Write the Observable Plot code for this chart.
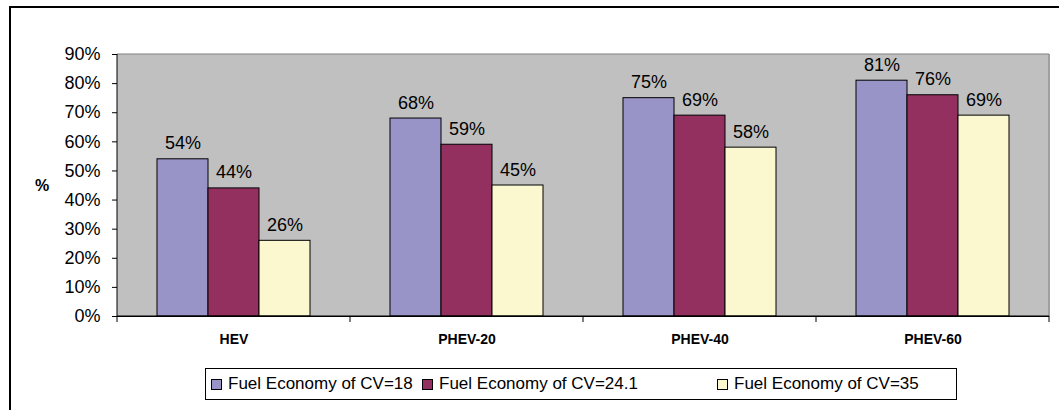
<!DOCTYPE html>
<html>
<head>
<meta charset="utf-8">
<script src="https://cdn.jsdelivr.net/npm/d3@7"></script>
<script src="https://cdn.jsdelivr.net/npm/@observablehq/plot@0.6"></script>
<style>
  html, body { margin: 0; padding: 0; background: #fff; }
  #wrap { position: relative; width: 1059px; height: 410px; overflow: hidden; font-family: Arial, "Liberation Sans", sans-serif; }
  #border { position: absolute; left: 9px; top: 6px; width: 1100px; height: 500px; border: 2px solid #000; box-sizing: border-box; }
  #chart { position: absolute; left: 0; top: 0; }
  #legend { position: absolute; left: 205px; top: 368px; width: 752px; height: 32px; box-sizing: border-box;
            border: 1px solid #000; background: #fff; display: flex; align-items: center; padding-left: 5px;
            font-size: 17px; color: #000; white-space: nowrap; }
  .item { display: flex; align-items: center; flex-shrink: 0; }
  .sw { width: 9px; height: 9px; border: 1px solid #000; margin-right: 6px; }
</style>
</head>
<body>
<div id="wrap">
  <div id="border"></div>
  <div id="chart"></div>
  <div id="legend"></div>
</div>
<script>
const categories = ["HEV", "PHEV-20", "PHEV-40", "PHEV-60"];
const series = ["Fuel Economy of CV=18", "Fuel Economy of CV=24.1", "Fuel Economy of CV=35"];
const cv18 = [54, 68, 75, 81];
const cv241 = [44, 59, 69, 76];
const cv35 = [26, 45, 58, 69];
const yTicks = [0, 10, 20, 30, 40, 50, 60, 70, 80, 90];
const colors = ["#9894c8", "#93305f", "#fbf8d0"];

const seriesValues = [cv18, cv241, cv35];
const data = [];
categories.forEach((c, i) => {
  series.forEach((s, j) => data.push({cat: c, series: s, value: seriesValues[j][i]}));
});

const font = 'Arial, "Liberation Sans", sans-serif';

const plot = Plot.plot({
  width: 1059,
  height: 410,
  marginLeft: 117,
  marginRight: 10,
  marginTop: 54,
  marginBottom: 94,
  style: {fontFamily: font, background: "transparent", overflow: "visible"},
  fx: {domain: categories, padding: 0},
  x: {domain: series, paddingInner: 0, paddingOuter: 0.75, axis: null},
  y: {domain: [0, 90]},
  color: {domain: series, range: colors},
  marks: [
    Plot.frame({fill: "#c0c0c0", stroke: "#c0c0c0"}),
    Plot.barY(data, {fx: "cat", x: "series", y: "value", fill: "series", stroke: "#000", strokeWidth: 1}),
    Plot.text(data, {fx: "cat", x: "series", y: "value", text: d => d.value + "%", lineAnchor: "bottom", dy: -10, fontSize: 18, fill: "#000"}),
    Plot.ruleY([0], {stroke: "#000", strokeWidth: 1}),
    Plot.axisY({ticks: yTicks, tickFormat: d => d + "%", tickSize: 5, tickPadding: 12, fontSize: 18, label: null, stroke: "#000", color: "#000"}),
    Plot.axisFx({anchor: "bottom", tickSize: 0, tickPadding: 18, fontSize: 14, fontWeight: "bold", label: null, color: "#000"})
  ]
});
document.getElementById("chart").appendChild(plot);

// Plot-area borders and category boundary ticks, positioned through Plot's scales
const fx = plot.scale("fx");
const y = plot.scale("y");
const svg = d3.select(plot);
const x0 = fx.apply(categories[0]);
const x1 = fx.apply(categories[categories.length - 1]) + fx.bandwidth;
const yb = y.apply(0), yt = y.apply(90);
const g = svg.append("g");
g.append("line").attr("x1", x0).attr("x2", x1).attr("y1", yt).attr("y2", yt).attr("stroke", "#808080");
g.append("line").attr("x1", x1).attr("x2", x1).attr("y1", yt).attr("y2", yb).attr("stroke", "#808080");
g.append("line").attr("x1", x0).attr("x2", x0).attr("y1", yt).attr("y2", yb).attr("stroke", "#000");
g.append("line").attr("x1", x0).attr("x2", x1).attr("y1", yb).attr("y2", yb).attr("stroke", "#000");
categories.forEach(c => {
  const xs = fx.apply(c);
  g.append("line").attr("x1", xs).attr("x2", xs).attr("y1", yb).attr("y2", yb + 6).attr("stroke", "#000");
});
g.append("line").attr("x1", x1).attr("x2", x1).attr("y1", yb).attr("y2", yb + 6).attr("stroke", "#000");
g.append("text").attr("x", x0 - 75).attr("y", (yb + yt) / 2 + 6).attr("text-anchor", "middle")
  .attr("font-size", 16).attr("font-weight", "bold").attr("fill", "#000").text("%");

// Legend
const legend = d3.select("#legend");
const itemWidths = [211, 295, null];
series.forEach((s, i) => {
  const it = legend.append("div").attr("class", "item");
  if (itemWidths[i]) it.style("width", itemWidths[i] + "px");
  it.append("div").attr("class", "sw").style("background", colors[i]);
  it.append("span").text(s);
});
</script>
</body>
</html>
